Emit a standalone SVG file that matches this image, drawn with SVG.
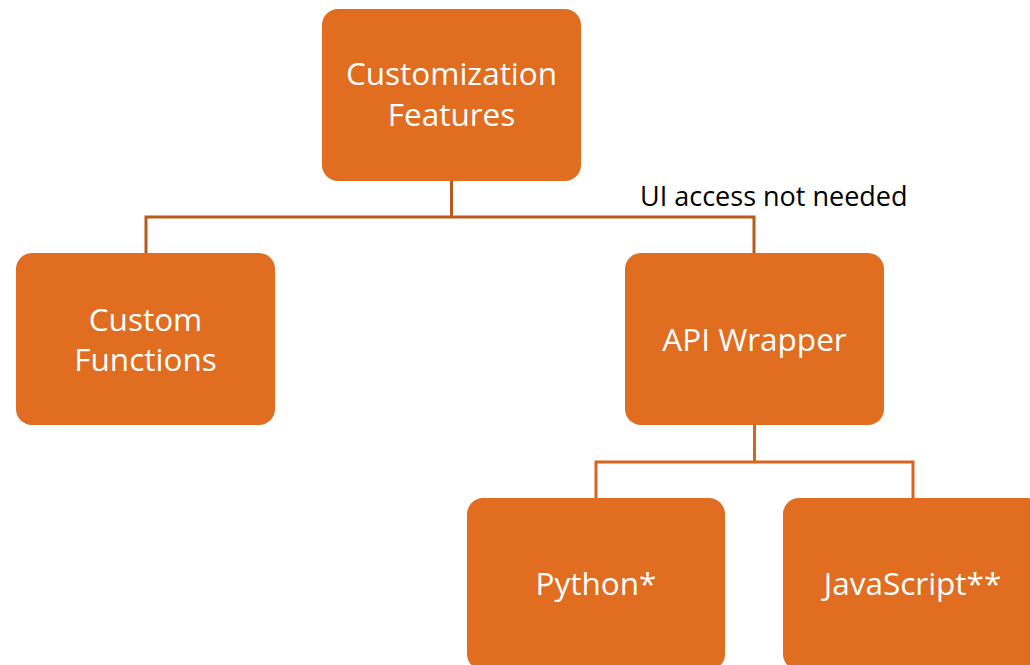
<svg xmlns="http://www.w3.org/2000/svg" width="1030" height="665" viewBox="0 0 1030 665">
<style>
.box{fill:#E06D20;}
.t{font-family:"Open Sans","Liberation Sans",sans-serif;font-size:31.5px;fill:#ffffff;text-anchor:middle;}
.lab{font-family:"Open Sans","Liberation Sans",sans-serif;font-size:27px;fill:#000000;}
.c1{fill:none;stroke:#B95A1C;stroke-width:3;}
.c2{fill:none;stroke:#D8651F;stroke-width:3;}
</style>
<rect width="1030" height="665" fill="#ffffff"/>
<g id="connectors">
<path class="c1" d="M451.5,181 V217 M146,253 V217 H754 V253"/>
<path class="c2" d="M754.5,425 V462 M596,498 V462 H913 V498"/>
</g>
<g id="node-customization">
<rect class="box" x="322" y="9" width="259" height="172" rx="16"/>
<text class="t" x="451.5" y="85">Customization</text>
<text class="t" x="451.5" y="126">Features</text>
</g>
<g id="node-custom-functions">
<rect class="box" x="16" y="253" width="259" height="172" rx="16"/>
<text class="t" x="145.5" y="331">Custom</text>
<text class="t" x="145.5" y="371">Functions</text>
</g>
<g id="node-api-wrapper">
<rect class="box" x="625" y="253" width="259" height="172" rx="16"/>
<text class="t" x="754.5" y="351">API Wrapper</text>
</g>
<g id="node-python">
<rect class="box" x="467" y="498" width="258" height="172" rx="16"/>
<text class="t" x="596" y="595">Python*</text>
</g>
<g id="node-javascript">
<rect class="box" x="783" y="498" width="260" height="172" rx="16"/>
<text class="t" x="912.5" y="595">JavaScript**</text>
</g>
<g id="label-ui">
<text class="lab" x="640" y="206">UI access not needed</text>
</g>
</svg>
